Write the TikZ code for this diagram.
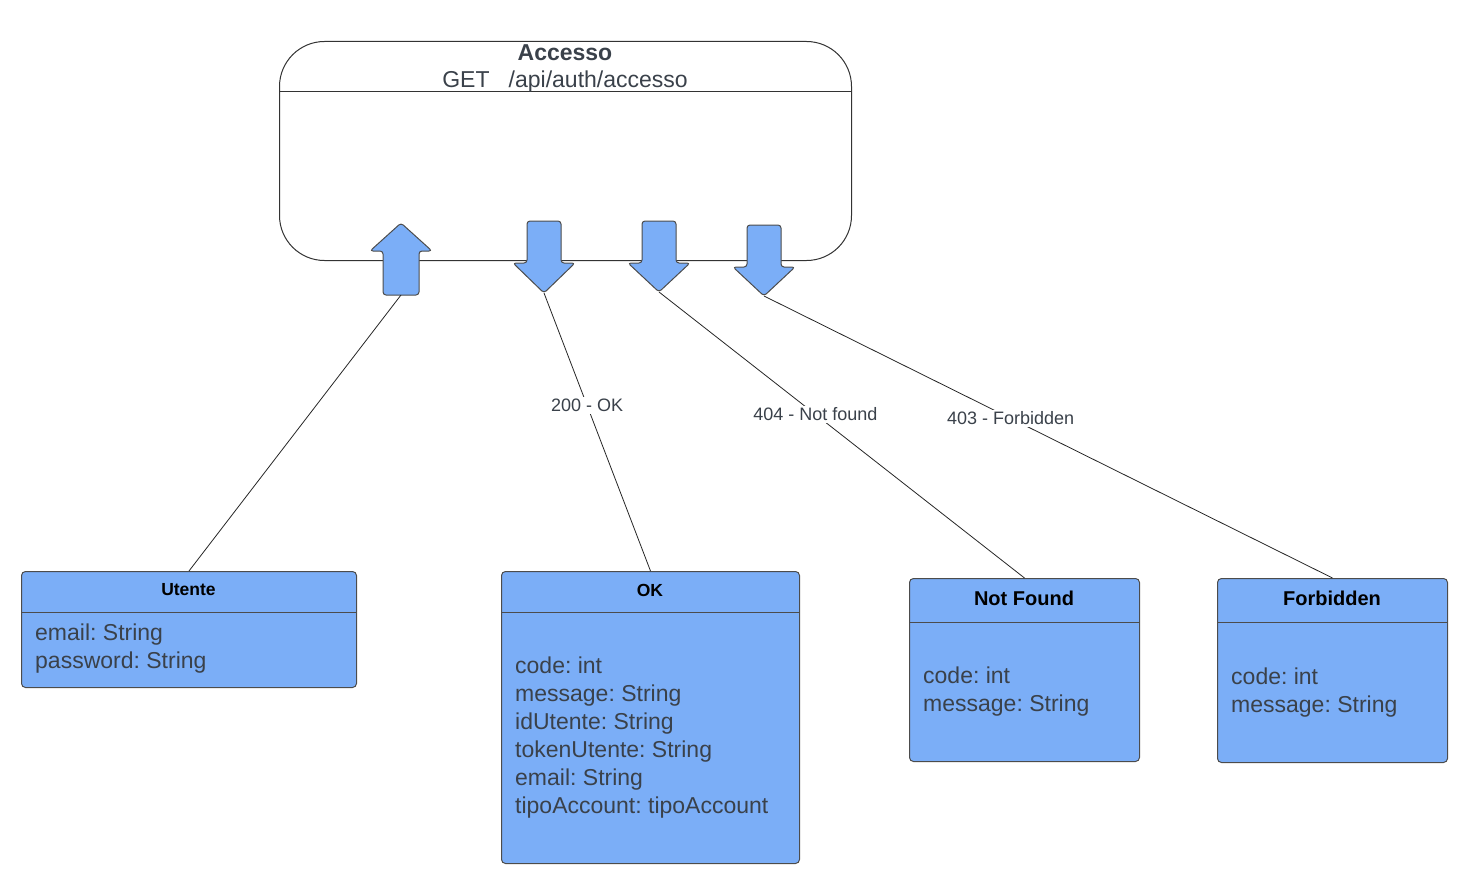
\documentclass[tikz,border=0pt]{standalone}
\usepackage{fontspec}
\setmainfont{Liberation Sans}
\frenchspacing
\begin{document}
\begin{tikzpicture}[x=1pt,y=-1pt,
  line/.style={draw=black!85, line width=0.8pt},
  umlbox/.style={draw=black!70, line width=1pt, fill=boxblue, rounded corners=4pt, anchor=north west, inner sep=0pt},
  bigarrow/.style={draw=black!70, line width=1pt, fill=boxblue, rounded corners=3pt},
  fields/.style={anchor=west, align=left, inner sep=0pt, text=txtgray, font=\frenchspacing\fontsize{23}{28}\selectfont},
  btitle/.style={inner sep=0pt, font=\bfseries\fontsize{17.5}{20}\selectfont},
  ntitle/.style={inner sep=0pt, font=\bfseries\fontsize{20}{24}\selectfont},
  elabel/.style={fill=white, inner sep=2pt, text=txtgray, font=\fontsize{18}{20}\selectfont}]
\definecolor{boxblue}{HTML}{7BAEF7}
\definecolor{txtgray}{HTML}{3A414A}
\useasboundingbox (0,0) rectangle (1478,888);
% main box
\node[draw=black!80, line width=1pt, rounded corners=45pt, minimum width=572pt, minimum height=219pt, anchor=north west, inner sep=0pt] (acc) at (279,41) {};
\draw[black!80, line width=1pt] (279,92) -- (851,92);
\node[inner sep=0pt, text=txtgray, font=\bfseries\fontsize{23}{26}\selectfont] (acct) at (565,53) {Accesso};
\node[inner sep=0pt, text=txtgray, font=\fontsize{23}{26}\selectfont] (accg) at (565,82) {GET\ \ \ /api/auth/accesso};
% arrows
\draw[bigarrow] (401,223) -- (432,251) -- (419,251) -- (419,295) -- (383,295) -- (383,251) -- (370,251) -- cycle;
\draw[bigarrow] (527,221) -- (561,221) -- (561,263) -- (575,263) -- (544,293) -- (513,263) -- (527,263) -- cycle;
\draw[bigarrow] (642,221) -- (676,221) -- (676,263) -- (690,263) -- (659,292) -- (628,263) -- (642,263) -- cycle;
\draw[bigarrow] (747,225) -- (781,225) -- (781,267) -- (795,267) -- (764,296) -- (733,267) -- (747,267) -- cycle;
\coordinate (inA) at (401,295);
\coordinate (okA) at (544,293);
\coordinate (nfA) at (659,292);
\coordinate (fbA) at (764,296);
% boxes
\node[umlbox, minimum width=335pt, minimum height=116pt] (ut) at (21,571) {};
\draw[black!70, line width=1pt] (21,612) -- (356,612);
\node[btitle] (utt) at (188.5,590) {Utente};
\node[fields] (utf) at (35,649) {email: String\\password: String};

\node[umlbox, minimum width=298pt, minimum height=292pt] (ok) at (501,571) {};
\draw[black!70, line width=1pt] (501,612) -- (799,612);
\node[btitle] (okt) at (650,590) {OK};
\node[fields] (okf) at (515,738) {code: int\\message: String\\idUtente: String\\tokenUtente: String\\email: String\\tipoAccount: tipoAccount};

\node[umlbox, minimum width=230pt, minimum height=183pt] (nf) at (909,578) {};
\draw[black!70, line width=1pt] (909,622) -- (1139,622);
\node[ntitle] (nft) at (1024,598) {Not Found};
\node[fields] (nff) at (923,692) {code: int\\message: String};

\node[umlbox, minimum width=230pt, minimum height=184pt] (fb) at (1217,578) {};
\draw[black!70, line width=1pt] (1217,622) -- (1447,622);
\node[ntitle] (fbt) at (1332,598) {Forbidden};
\node[fields] (fbf) at (1231,693) {code: int\\message: String};
% connectors
\draw[line] (inA) -- (ut.north);
\draw[line] (okA) -- node[elabel, pos=0.405] {200 - OK} (ok.north);
\draw[line] (nfA) -- node[elabel, pos=0.428] {404 - Not found} (nf.north);
\draw[line] (fbA) -- node[elabel, pos=0.434] {403 - Forbidden} (fb.north);
\end{tikzpicture}
\end{document}
